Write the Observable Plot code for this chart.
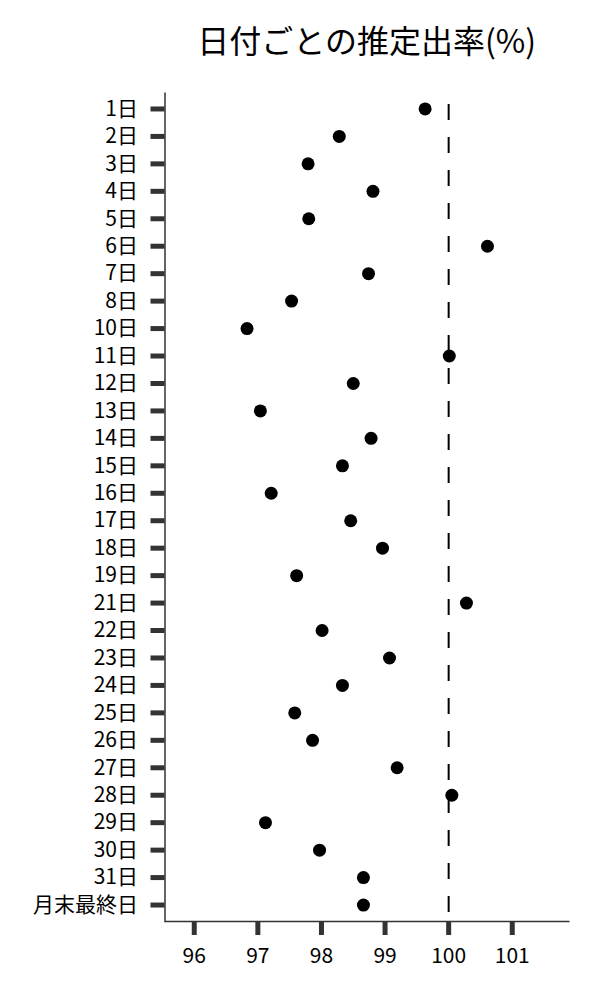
<!DOCTYPE html>
<html>
<head>
<meta charset="utf-8">
<script src="https://cdn.jsdelivr.net/npm/d3@7"></script>
<script src="https://cdn.jsdelivr.net/npm/@observablehq/plot@0.6"></script>
<style>
  html, body { margin: 0; padding: 0; background: #fff; }
  #title {
    font-family: "Noto Sans CJK JP", "Noto Sans", sans-serif;
    font-size: 32px;
    line-height: 40px;
    height: 80px;
    box-sizing: border-box;
    padding-top: 19px;
    margin-left: 164.5px;
    width: 404.5px;
    text-align: center;
    color: #000;
    white-space: nowrap;
  }
</style>
</head>
<body>
<div id="title">日付ごとの推定出率(%)</div>
<div id="chart"></div>
<script>
const days = ["1日","2日","3日","4日","5日","6日","7日","8日","10日","11日","12日","13日","14日","15日","16日","17日","18日","19日","21日","22日","23日","24日","25日","26日","27日","28日","29日","30日","31日","月末最終日"];
const rates = [99.63,98.28,97.79,98.81,97.80,100.61,98.74,97.53,96.83,100.01,98.50,97.04,98.78,98.33,97.21,98.46,98.96,97.61,100.28,98.01,99.07,98.33,97.58,97.86,99.19,100.05,97.12,97.97,98.66,98.66];
const xTicks = [96, 97, 98, 99, 100, 101];
const xDomain = [95.54, 101.9];
const reference = [100];

const data = days.map((d, i) => ({day: d, rate: rates[i]}));

const W = 600, H = 920;
const mL = 164.5, mR = 31, mT = 12, mB = 79;
const fw = W - mL - mR, fh = H - mT - mB;

const chart = Plot.plot({
  width: W,
  height: H,
  marginLeft: mL,
  marginRight: mR,
  marginTop: mT,
  marginBottom: mB,
  style: {fontFamily: "'Noto Sans CJK JP', 'Noto Sans', sans-serif", fontSize: "20px", color: "#000", background: "#fff"},
  x: {domain: xDomain, ticks: xTicks, label: null},
  y: {type: "point", domain: days, padding: 0.6, round: false, label: null},
  marks: [
    Plot.frame({stroke: "#333", strokeWidth: 1.5, strokeDasharray: `0,${fw + fh},${fw + fh + 2}`}),
    Plot.axisX({ticks: xTicks, tickSize: 14, tickPadding: 13, stroke: "#333", strokeWidth: 5, fill: "#000", fontSize: 21, label: null, tickFormat: d => String(d)}),
    Plot.axisY({tickSize: 14, tickPadding: 13, stroke: "#333", strokeWidth: 5, fill: "#000", fontSize: 21, label: null}),
    Plot.ruleX(reference, {stroke: "#000", strokeWidth: 2, strokeDasharray: "16,17", strokeDashoffset: 21}),
    Plot.dot(data, {x: "rate", y: "day", r: 6.5, fill: "#000", stroke: null})
  ]
});
document.getElementById("chart").appendChild(chart);
</script>
</body>
</html>
